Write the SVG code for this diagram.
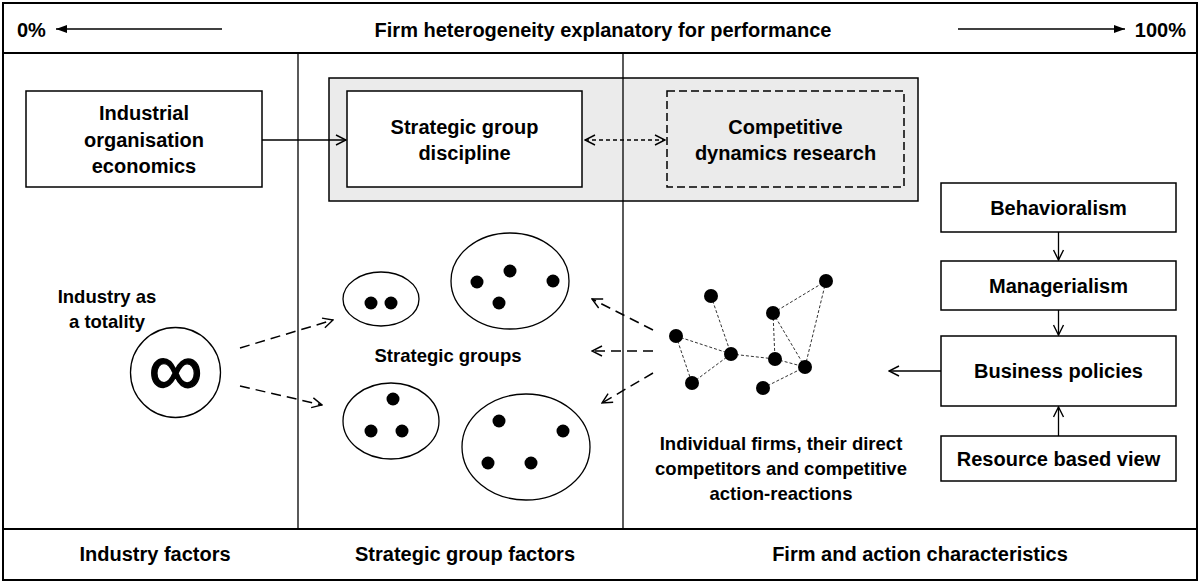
<svg xmlns="http://www.w3.org/2000/svg" width="1200" height="583" viewBox="0 0 1200 583">
<style>
text{font-family:"Liberation Sans",Arial,sans-serif;font-weight:bold;fill:#000;text-anchor:middle}
.t{font-size:20px}
.s{font-size:18.5px}
.box{fill:#fff;stroke:#000;stroke-width:1.5}
.ln{fill:none;stroke:#000;stroke-width:1.3}
.dl{fill:none;stroke:#000;stroke-width:1.5;stroke-dasharray:10,6}
.dot{fill:#000}
.ed{fill:none;stroke:#333;stroke-width:1;stroke-dasharray:3,2}
</style>
<defs>
<marker id="open" viewBox="0 0 12 12" refX="11" refY="6" markerWidth="12" markerHeight="12" markerUnits="userSpaceOnUse" orient="auto-start-reverse">
<path d="M1,1 L11,6 L1,11" fill="none" stroke="#000" stroke-width="1.4"/>
</marker>
<marker id="solid" viewBox="0 0 12 10" refX="11" refY="5" markerWidth="12" markerHeight="10" markerUnits="userSpaceOnUse" orient="auto-start-reverse">
<path d="M0,1 L11,5 L0,9 Z" fill="#000"/>
</marker>
</defs>
<rect x="0" y="0" width="1200" height="583" fill="#fff"/>

<g id="frame">
<rect x="3" y="3" width="1194" height="577" fill="none" stroke="#000" stroke-width="2"/>
<line x1="3" y1="53" x2="1197" y2="53" stroke="#000" stroke-width="2"/>
<line x1="3" y1="529" x2="1197" y2="529" stroke="#000" stroke-width="2"/>
</g>

<g id="header">
<text class="t" x="17" y="37" style="text-anchor:start">0%</text>
<text class="t" x="603" y="37">Firm heterogeneity explanatory for performance</text>
<text class="t" x="1186" y="37" style="text-anchor:end">100%</text>
</g>

<g id="grey-group">
<rect x="329" y="78" width="589" height="123" fill="#ebebeb" stroke="#000" stroke-width="1.5"/>
</g>

<g id="dividers">
<line x1="298" y1="53" x2="298" y2="529" stroke="#000" stroke-width="1.3"/>
<line x1="623" y1="53" x2="623" y2="529" stroke="#000" stroke-width="1.3"/>
</g>

<g id="io-economics">
<rect class="box" x="26" y="91" width="236" height="96"/>
<text class="t" x="144" y="120">Industrial</text>
<text class="t" x="144" y="147">organisation</text>
<text class="t" x="144" y="173">economics</text>
</g>

<g id="strategic-group-discipline">
<rect class="box" x="347" y="91" width="235" height="96"/>
<text class="t" x="464.5" y="134">Strategic group</text>
<text class="t" x="464.5" y="160">discipline</text>
</g>

<g id="competitive-dynamics">
<rect x="667" y="91" width="237" height="96" fill="none" stroke="#000" stroke-width="1.5" stroke-dasharray="8,4"/>
<text class="t" x="785.5" y="134">Competitive</text>
<text class="t" x="785.5" y="160">dynamics research</text>
</g>

<g id="industry-totality">
<text class="s" x="107" y="303">Industry as</text>
<text class="s" x="107" y="328">a totality</text>
<circle cx="175.5" cy="372.5" r="45" fill="#fff" stroke="#000" stroke-width="1.3"/>
<text x="175.5" y="395" style="font-size:76px;font-weight:normal;stroke:#000;stroke-width:1.4">∞</text>
</g>

<g id="strategic-groups">
<ellipse cx="381" cy="299" rx="38" ry="27" fill="#fff" stroke="#000" stroke-width="1.3"/>
<circle class="dot" cx="371" cy="303" r="6.5"/>
<circle class="dot" cx="391" cy="303" r="6.5"/>
<ellipse cx="510" cy="281" rx="59" ry="48" fill="#fff" stroke="#000" stroke-width="1.3"/>
<circle class="dot" cx="477" cy="282" r="6.5"/>
<circle class="dot" cx="510" cy="271" r="6.5"/>
<circle class="dot" cx="553" cy="281" r="6.5"/>
<circle class="dot" cx="499" cy="303" r="6.5"/>
<ellipse cx="391" cy="421" rx="48" ry="38" fill="#fff" stroke="#000" stroke-width="1.3"/>
<circle class="dot" cx="393" cy="399" r="6.5"/>
<circle class="dot" cx="371" cy="431" r="6.5"/>
<circle class="dot" cx="402" cy="431" r="6.5"/>
<ellipse cx="526" cy="447" rx="64" ry="53" fill="#fff" stroke="#000" stroke-width="1.3"/>
<circle class="dot" cx="499" cy="421" r="6.5"/>
<circle class="dot" cx="563" cy="431" r="6.5"/>
<circle class="dot" cx="488" cy="463" r="6.5"/>
<circle class="dot" cx="531" cy="463" r="6.5"/>
<text class="s" x="448" y="362">Strategic groups</text>
</g>

<g id="firm-network">
<line class="ed" x1="711" y1="296" x2="731" y2="354"/>
<line class="ed" x1="676" y1="336" x2="731" y2="354"/>
<line class="ed" x1="676" y1="336" x2="692" y2="383"/>
<line class="ed" x1="692" y1="383" x2="731" y2="354"/>
<line class="ed" x1="731" y1="354" x2="775" y2="359"/>
<line class="ed" x1="775" y1="359" x2="805" y2="367"/>
<line class="ed" x1="773" y1="313" x2="775" y2="359"/>
<line class="ed" x1="773" y1="313" x2="805" y2="367"/>
<line class="ed" x1="773" y1="313" x2="826" y2="281"/>
<line class="ed" x1="826" y1="281" x2="805" y2="367"/>
<line class="ed" x1="763" y1="388" x2="805" y2="367"/>
<circle class="dot" cx="711" cy="296" r="7"/>
<circle class="dot" cx="676" cy="336" r="7"/>
<circle class="dot" cx="692" cy="383" r="7"/>
<circle class="dot" cx="731" cy="354" r="7"/>
<circle class="dot" cx="773" cy="313" r="7"/>
<circle class="dot" cx="826" cy="281" r="7"/>
<circle class="dot" cx="775" cy="359" r="7"/>
<circle class="dot" cx="805" cy="367" r="7"/>
<circle class="dot" cx="763" cy="388" r="7"/>
<text class="s" x="781" y="450">Individual firms, their direct</text>
<text class="s" x="781" y="475">competitors and  competitive</text>
<text class="s" x="781" y="500">action-reactions</text>
</g>

<g id="behavioralism">
<rect class="box" x="941" y="183" width="235" height="49"/>
<text class="t" x="1058.5" y="215">Behavioralism</text>
</g>
<g id="managerialism">
<rect class="box" x="941" y="261" width="235" height="49"/>
<text class="t" x="1058.5" y="293">Managerialism</text>
</g>
<g id="business-policies">
<rect class="box" x="941" y="336" width="235" height="70"/>
<text class="t" x="1058.5" y="378">Business policies</text>
</g>
<g id="resource-based-view">
<rect class="box" x="941" y="436" width="235" height="45"/>
<text class="t" x="1058.5" y="466">Resource based view</text>
</g>

<g id="footer">
<text class="t" x="155" y="561">Industry factors</text>
<text class="t" x="465" y="561">Strategic group factors</text>
<text class="t" x="920" y="561">Firm and action characteristics</text>
</g>

<g id="connectors">
<line class="ln" x1="222" y1="29" x2="56" y2="29" marker-end="url(#solid)"/>
<line class="ln" x1="958" y1="29" x2="1125" y2="29" marker-end="url(#solid)"/>
<line class="ln" x1="262" y1="140" x2="346" y2="140" marker-end="url(#open)"/>
<line x1="585" y1="140" x2="665" y2="140" fill="none" stroke="#000" stroke-width="1.3" stroke-dasharray="4,3" marker-start="url(#open)" marker-end="url(#open)"/>
<line class="dl" x1="240" y1="348" x2="333" y2="320" marker-end="url(#open)"/>
<line class="dl" x1="240" y1="386" x2="322" y2="405" marker-end="url(#open)"/>
<line class="dl" x1="653" y1="330" x2="592" y2="299" marker-end="url(#open)"/>
<line class="dl" x1="653" y1="351" x2="592" y2="351" marker-end="url(#open)"/>
<line class="dl" x1="653" y1="373" x2="602" y2="403" marker-end="url(#open)"/>
<line class="ln" x1="941" y1="371" x2="889" y2="371" marker-end="url(#open)"/>
<line class="ln" x1="1058.5" y1="232" x2="1058.5" y2="260" marker-end="url(#open)"/>
<line class="ln" x1="1058.5" y1="310" x2="1058.5" y2="335" marker-end="url(#open)"/>
<line class="ln" x1="1058.5" y1="436" x2="1058.5" y2="407" marker-end="url(#open)"/>
</g>
</svg>
